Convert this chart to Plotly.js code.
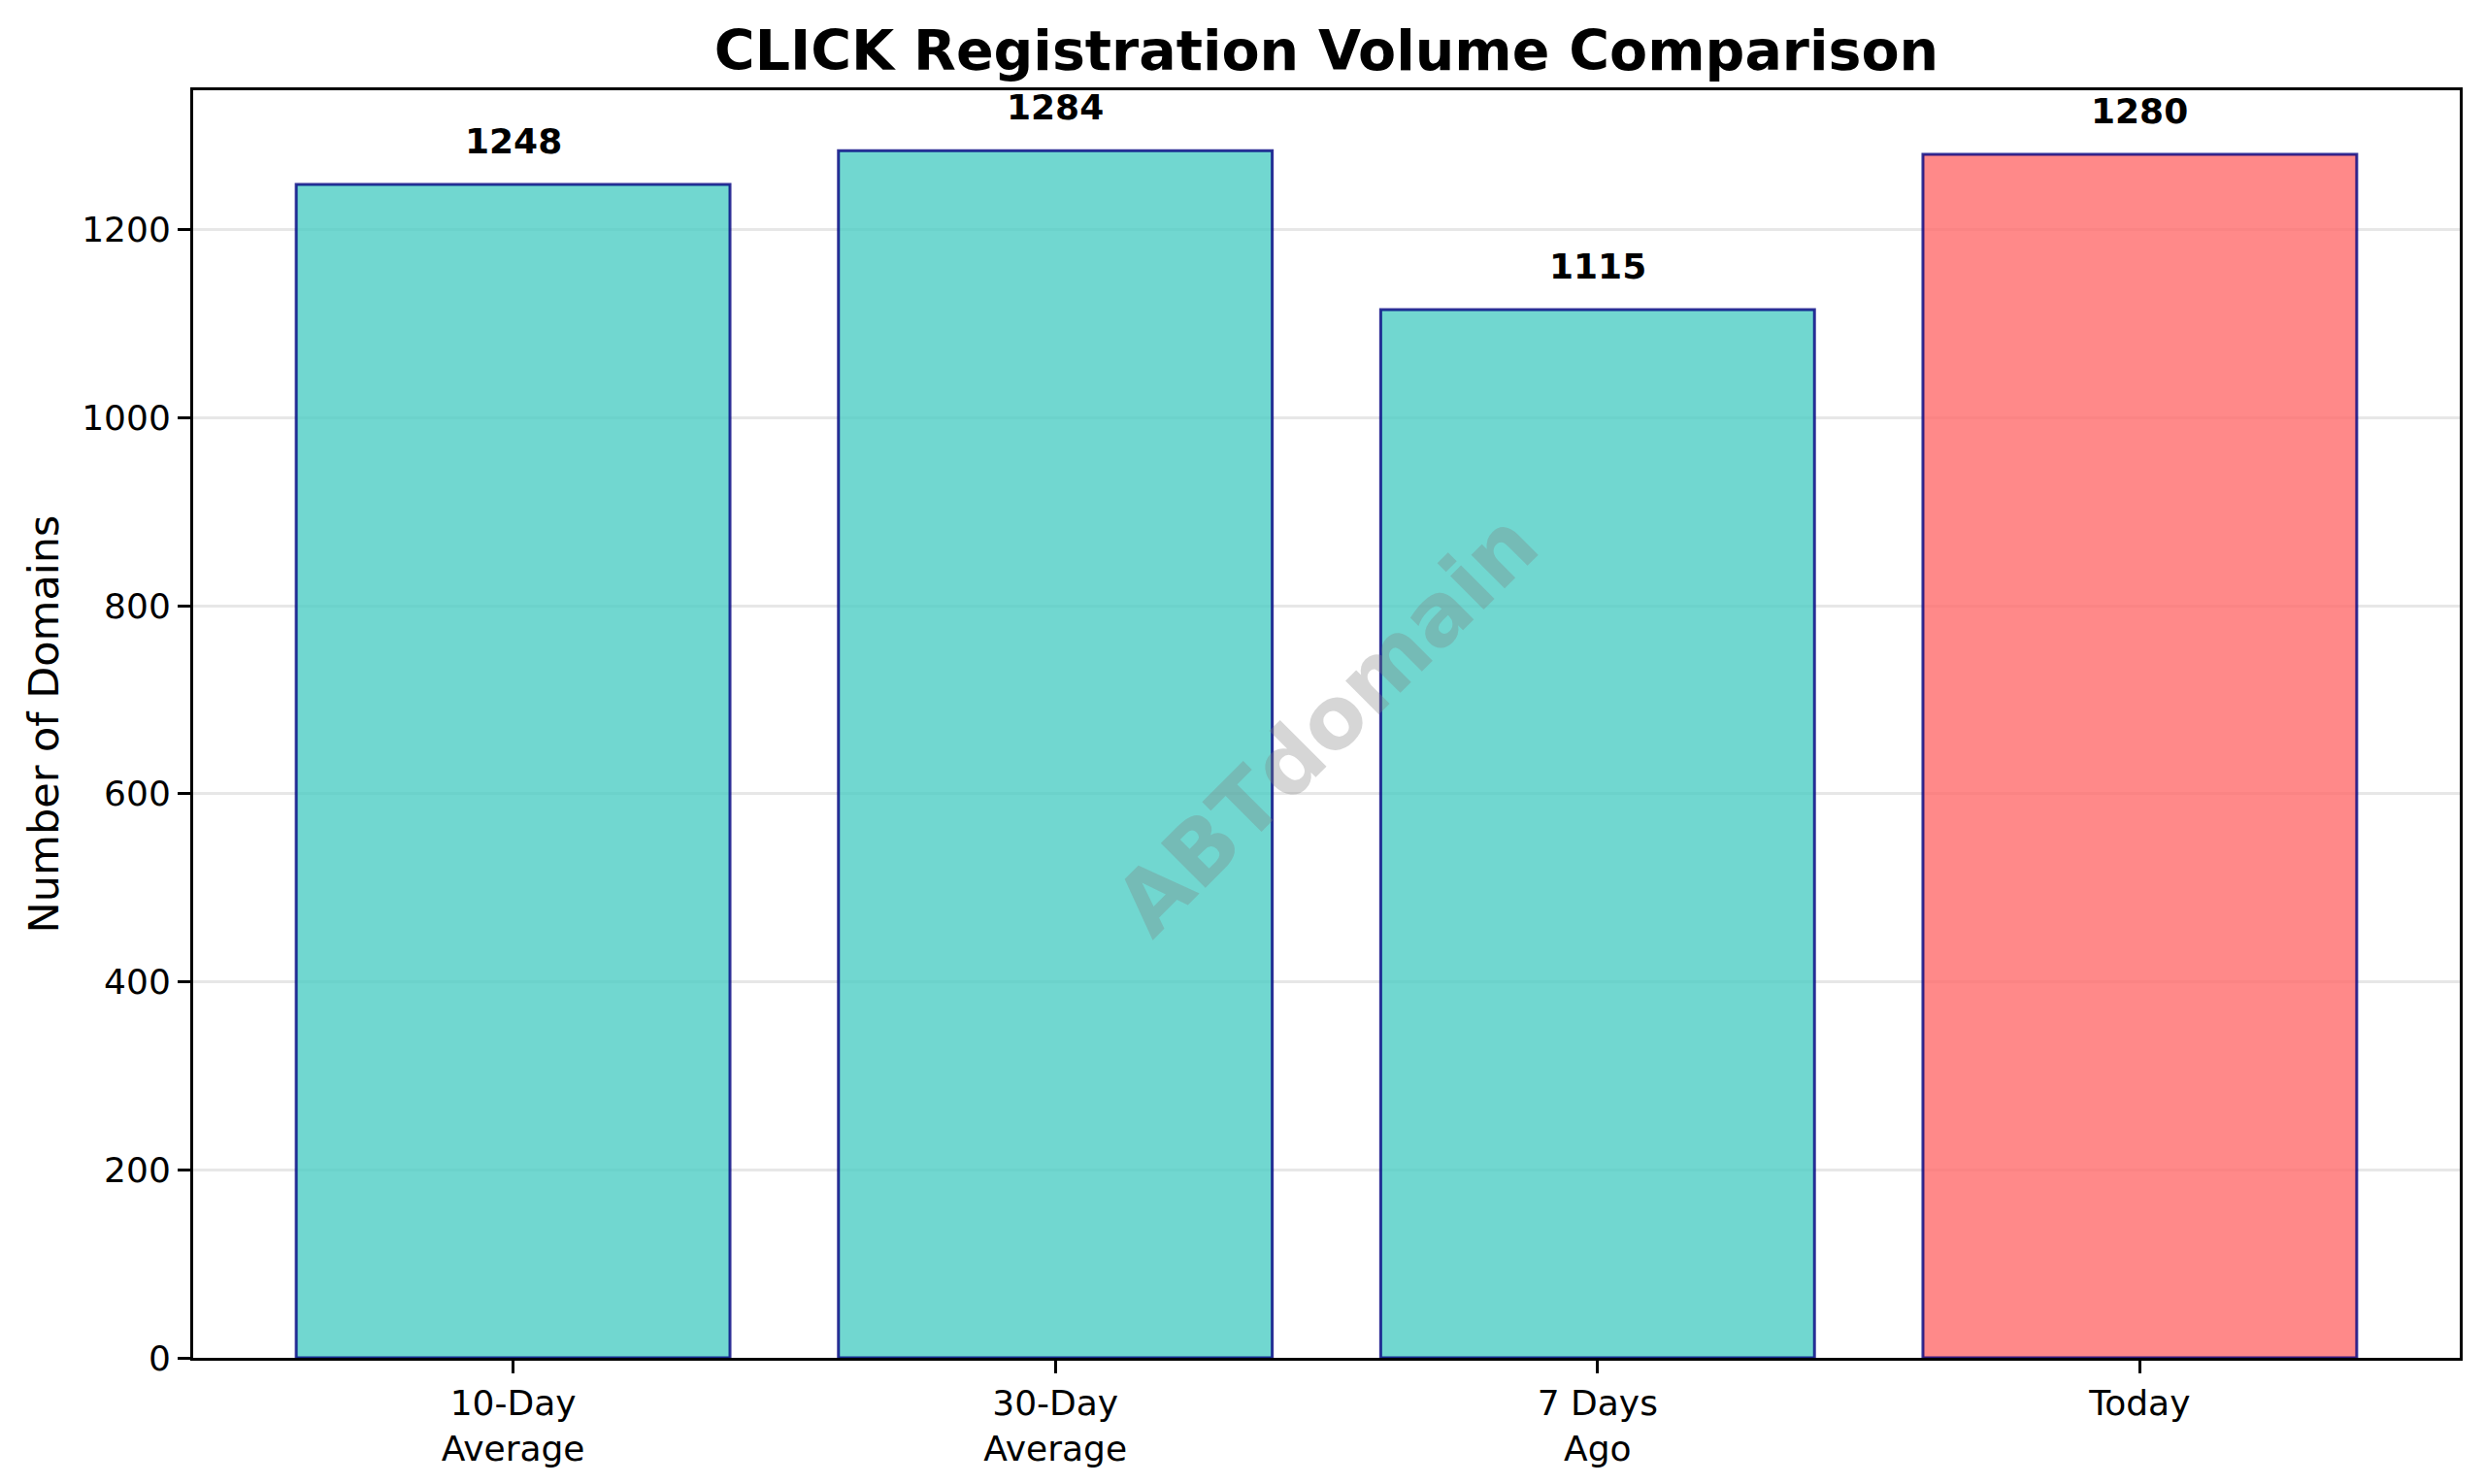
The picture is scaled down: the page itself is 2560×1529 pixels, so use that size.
<!DOCTYPE html>
<html>
<head>
<meta charset="utf-8">
<script src="https://cdn.plot.ly/plotly-3.0.1.min.js"></script>
<style>
  html, body { margin: 0; padding: 0; background: #ffffff; }
  #chart { width: 2560px; height: 1529px; }
</style>
</head>
<body>
<div id="chart"></div>
<script>
// ---- Data ----
const categories = ["10-Day Average", "30-Day Average", "7 Days Ago", "Today"];
const tickLabels = ["10-Day<br>Average", "30-Day<br>Average", "7 Days<br>Ago", "Today"];
const volumes = [1248, 1284, 1115, 1280];
const barColors = ["rgba(78,205,196,0.8)", "rgba(78,205,196,0.8)", "rgba(78,205,196,0.8)", "rgba(255,107,107,0.8)"];
const chartTitle = "CLICK Registration Volume Comparison";
const yAxisTitle = "Number of Domains";
const watermarkText = "ABTdomain";

const FONT = "DejaVu Sans";
const xIdx = categories.map((_, i) => i);
const yMax = Math.max(...volumes) * 1.05;

const trace = {
  type: "bar",
  x: xIdx,
  y: volumes,
  width: 0.8,
  marker: {
    color: barColors,
    line: { color: "rgba(0,0,128,0.8)", width: 3 }
  },
  hoverinfo: "x+y",
  showlegend: false
};

const annotations = volumes.map((v, i) => ({
  x: i, y: v, xref: "x", yref: "y",
  text: String(v),
  showarrow: false,
  yanchor: "bottom",
  yshift: 22,
  font: { family: FONT, size: 36, color: "#000000", weight: "bold" }
}));

annotations.push({
  x: 0.5, y: 0.5, xref: "paper", yref: "paper",
  text: watermarkText,
  showarrow: false,
  textangle: -45,
  xanchor: "center", yanchor: "middle",
  font: { family: FONT, size: 89, color: "rgba(128,128,128,0.32)", weight: "bold" }
});

const layout = {
  width: 2560,
  height: 1529,
  paper_bgcolor: "#ffffff",
  plot_bgcolor: "#ffffff",
  margin: { l: 199, r: 26, t: 93, b: 130, pad: 0 },
  font: { family: FONT, color: "#000000" },
  title: {
    text: "<b>" + chartTitle + "</b>",
    font: { family: FONT, size: 57, color: "#000000" },
    x: 0.5, xref: "paper", xanchor: "center",
    y: 1 - 52 / 1529, yref: "container", yanchor: "middle"
  },
  xaxis: {
    range: [-0.59, 3.59],
    tickmode: "array",
    tickvals: xIdx,
    ticktext: tickLabels,
    ticks: "outside",
    ticklen: 13,
    tickwidth: 3,
    tickcolor: "#000000",
    tickfont: { family: FONT, size: 36, color: "#000000" },
    showgrid: false,
    zeroline: false,
    showline: true,
    linecolor: "#000000",
    linewidth: 3,
    mirror: true,
    fixedrange: true
  },
  yaxis: {
    range: [0, yMax],
    tickmode: "linear",
    tick0: 0,
    dtick: 200,
    ticks: "outside",
    ticklen: 13,
    tickwidth: 3,
    tickcolor: "#000000",
    tickfont: { family: FONT, size: 36, color: "#000000" },
    showgrid: true,
    gridcolor: "rgba(176,176,176,0.3)",
    gridwidth: 3,
    layer: "above traces",
    zeroline: false,
    showline: true,
    linecolor: "#000000",
    linewidth: 3,
    mirror: true,
    automargin: false,
    title: {
      text: yAxisTitle,
      font: { family: FONT, size: 43, color: "#000000" },
      standoff: 11
    },
    fixedrange: true
  },
  annotations: annotations,
  bargap: 0.2
};

Plotly.newPlot("chart", [trace], layout, { displayModeBar: false, staticPlot: true });
</script>
</body>
</html>
